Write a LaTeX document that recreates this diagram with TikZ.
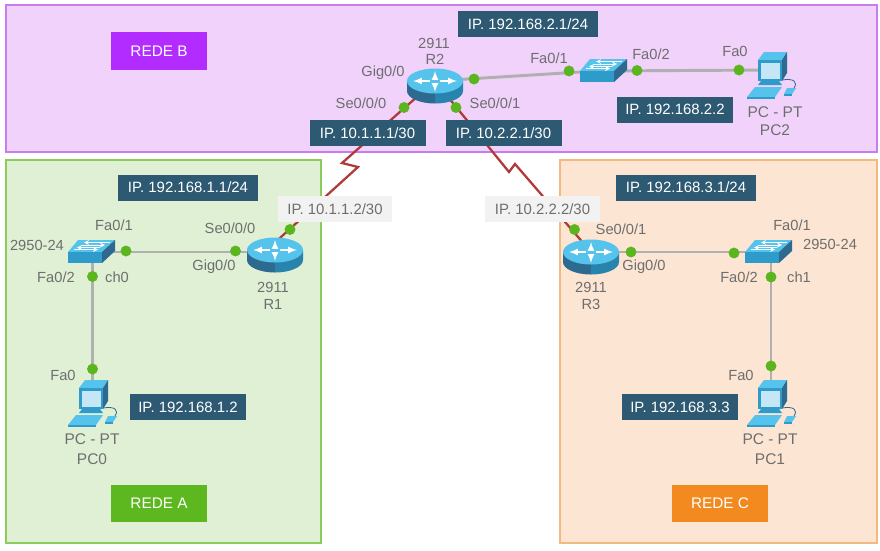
\documentclass[tikz,border=0pt]{standalone}
\usepackage{fontspec}
\setmainfont{Liberation Sans}
\usetikzlibrary{shapes,arrows}
\definecolor{dotgreen}{HTML}{5AB51E}
\definecolor{linkgray}{HTML}{B0B0B0}
\definecolor{serialred}{HTML}{B03A3A}
\definecolor{ipblue}{HTML}{2D5A72}
\definecolor{labelgray}{HTML}{6E6E6E}
\definecolor{iconlight}{HTML}{55C3EB}
\definecolor{iconmid}{HTML}{2F9BCB}
\definecolor{icondark}{HTML}{2E6A90}
\definecolor{screenblue}{HTML}{C5E6F5}
\definecolor{areaBline}{HTML}{C77DEE}
\definecolor{areaBfill}{HTML}{F0D2FB}
\definecolor{areaAline}{HTML}{8CCC5C}
\definecolor{areaAfill}{HTML}{E0F0D4}
\definecolor{areaCline}{HTML}{F4B97F}
\definecolor{areaCfill}{HTML}{FCE5D3}
\definecolor{redeBcol}{HTML}{B32CFF}
\definecolor{redeAcol}{HTML}{5CB81E}
\definecolor{redeCcol}{HTML}{F28A20}
\tikzset{
  area/.style={draw,line width=0.9pt},
  port/.style={circle,fill=dotgreen,inner sep=0pt,minimum size=8.2pt},
  lan/.style={linkgray,line width=2.2pt},
  serial/.style={serialred,line width=1.7pt},
  iplong/.style={fill=ipblue,text=white,font=\fontsize{11.2pt}{13pt}\selectfont,minimum width=105pt,minimum height=19.5pt,inner sep=0pt},
  ipshort/.style={iplong,minimum width=87pt},
  ipgray/.style={fill=black!5,text=labelgray,font=\fontsize{11.2pt}{13pt}\selectfont,minimum width=86pt,minimum height=19.5pt,inner sep=0pt},
  redebox/.style={text=white,font=\fontsize{11.5pt}{13pt}\selectfont,minimum width=72pt,minimum height=28pt,inner sep=0pt},
  lbl/.style={text=labelgray,font=\fontsize{11pt}{13pt}\selectfont,inner sep=0pt},
  biglbl/.style={text=labelgray,font=\fontsize{11.6pt}{14pt}\selectfont,inner sep=0pt},
  routerarrow/.style={white,line width=1.3pt,-latex},
  switcharrow/.style={white,line width=0.7pt,-stealth},
  router/.pic={
    \fill[icondark] (-28,0) -- (-28,10) .. controls (-28,16.9) and (-15.5,22.5) .. (0,22.5) -- (0,0) -- cycle;
    \fill[iconmid!85!black] (28,0) -- (28,10) .. controls (28,16.9) and (15.5,22.5) .. (0,22.5) -- (0,0) -- cycle;
    \fill[iconlight] (-28,0) .. controls (-28,-6.9) and (-15.5,-12.5) .. (0,-12.5) .. controls (15.5,-12.5) and (28,-6.9) .. (28,0) .. controls (28,6.9) and (15.5,12.5) .. (0,12.5) .. controls (-15.5,12.5) and (-28,6.9) .. (-28,0) -- cycle;
    \draw[routerarrow] (-5,0) -- (-22,0);
    \draw[routerarrow] (5,0) -- (22,0);
    \draw[routerarrow] (0,-2) -- (0,-10);
    \draw[routerarrow] (0,2) -- (0,11);
  },
  switchbox/.pic={
    \fill[iconlight] (0,0) -- (10,-12) -- (47,-12) -- (34,0) -- cycle;
    \fill[iconmid] (0,0) rectangle (34,11);
    \fill[icondark] (34,0) -- (47,-12) -- (47,-1) -- (34,11) -- cycle;
    \draw[switcharrow] (6,-2.5) -- (30,-2.5);
    \draw[switcharrow] (32,-4.5) -- (9,-4.5);
    \draw[switcharrow] (13,-7) -- (37,-7);
    \draw[switcharrow] (42,-9.5) -- (16,-9.5);
  },
  pcicon/.pic={
    \fill[iconlight] (0,0) -- (6,-8) -- (29,-8) -- (24,0) -- cycle;
    \fill[icondark] (24,0) -- (29,-8) -- (29,13) -- (24,21) -- cycle;
    \fill[iconmid] (0,0) rectangle (24,21);
    \fill[screenblue] (2.5,2.5) rectangle (22,18.5);
    \fill[iconmid] (3,21) -- (21,21) -- (24,25) -- (0,25) -- cycle;
    \fill[iconlight] (-3,27) -- (24,27) -- (17,37) -- (-11,37) -- cycle;
    \fill[iconmid] (-11,37) -- (17,37) -- (17,39) -- (-11,39) -- cycle;
    \fill[iconlight] (29,28) -- (38,28) -- (34,34) -- (26,34) -- cycle;
    \fill[iconmid] (26,34) -- (34,34) -- (34,36) -- (26,36) -- cycle;
    \draw[icondark,line width=0.6pt] (24,20) .. controls (36,18) and (40,22) .. (36,28);
  }
}
\begin{document}
\begin{tikzpicture}[x=0.75pt,y=-0.75pt]
        \useasboundingbox (0,0) rectangle (880,550);
        \fill[white] (0,0) rectangle (880,550);

        % areas
        \path[area,draw=areaBline,fill=areaBfill] (6,5) rectangle (877,152);
        \path[area,draw=areaAline,fill=areaAfill] (6,160) rectangle (321,543);
        \path[area,draw=areaCline,fill=areaCfill] (560,160) rectangle (877,543);

        % devices
        \coordinate (R2) at (435,81);
        \coordinate (R1) at (275,252);
        \coordinate (R3) at (591,252);
        \coordinate (SW2) at (597,71);
        \coordinate (SW0) at (92.5,252);
        \coordinate (SW1) at (771,252);
        \coordinate (PC2) at (770,70);
        \coordinate (PC0) at (92.5,398);
        \coordinate (PC1) at (771,398);

        % bends of the serial links
        \coordinate (zigA) at (342,163);
        \coordinate (zigB) at (358,167);
        \coordinate (zigC) at (509,172);
        \coordinate (zigD) at (515,164);
        \coordinate (R1serial) at (270,247);

        % links
        \draw[lan] (R2) -- (SW2);
        \draw[lan] (SW2) -- (PC2);
        \draw[lan] (SW0) -- (R1);
        \draw[lan] (SW0) -- (PC0);
        \draw[lan] (R3) -- (SW1);
        \draw[lan] (SW1) -- (PC1);
        \draw[serial] (R2) -- (zigA) -- (zigB) -- (R1serial);
        \draw[serial] (R2) -- (zigC) -- (zigD) -- (R3);

        % icons
        \pic at (R2) {router};
        \pic at (275,250) {router};
        \pic at (R3) {router};
        \pic at (580,71) {switchbox};
        \pic at (68,252) {switchbox};
        \pic at (745,252) {switchbox};
        \pic at (758,60) {pcicon};
        \pic at (79,388) {pcicon};
        \pic at (758,388) {pcicon};

        % ports
        \node[port] (p1) at (474,79) {};
        \node[port] (p2) at (569,71) {};
        \node[port] (p3) at (637,70.5) {};
        \node[port] (p4) at (739,70) {};
        \node[port] (p5) at (404,107.5) {};
        \node[port] (p6) at (456,107.5) {};
        \node[port] (p7) at (126,251) {};
        \node[port] (p8) at (235.5,251) {};
        \node[port] (p9) at (290,229.5) {};
        \node[port] (p10) at (92.5,276.5) {};
        \node[port] (p11) at (92.5,369) {};
        \node[port] (p12) at (574.5,229.5) {};
        \node[port] (p13) at (631,252) {};
        \node[port] (p14) at (734,253) {};
        \node[port] (p15) at (771,277) {};
        \node[port] (p16) at (771,366) {};

        % addresses
        \node[iplong] (ipB) at (528,24) {IP. 192.168.2.1/24};
        \node[iplong] (ipA) at (188,187.5) {IP. 192.168.1.1/24};
        \node[iplong] (ipC) at (686,187.5) {IP. 192.168.3.1/24};
        \node[ipshort] (ipPC2) at (675,109.5) {IP. 192.168.2.2};
        \node[ipshort] (ipPC0) at (188,407) {IP. 192.168.1.2};
        \node[ipshort] (ipPC1) at (680,407) {IP. 192.168.3.3};
        \node[ipshort] (ipS1) at (367.5,133) {IP. 10.1.1.1/30};
        \node[ipshort] (ipS2) at (503.5,133) {IP. 10.2.2.1/30};
        \node[ipgray] (ipS3) at (335,209) {IP. 10.1.1.2/30};
        \node[ipgray] (ipS4) at (542.5,209) {IP. 10.2.2.2/30};

        % networks
        \node[redebox,fill=redeBcol] (redeB) at (159,51) {REDE B};
        \node[redebox,fill=redeAcol] (redeA) at (159,503.5) {REDE A};
        \node[redebox,fill=redeCcol] (redeC) at (720,503.5) {REDE C};

        % labels of R2 side
        \node[lbl] (t1) at (434,43) {2911};
        \node[lbl] (t2) at (435,59) {R2};
        \node[lbl] (t3) at (383,73) {Gig0/0};
        \node[lbl] (t4) at (361,103) {Se0/0/0};
        \node[lbl] (t5) at (495,103) {Se0/0/1};
        \node[lbl] (t6) at (549,58) {Fa0/1};
        \node[lbl] (t7) at (651,54) {Fa0/2};
        \node[lbl] (t8) at (735,51) {Fa0};
        \node[biglbl] (t9) at (775,112) {PC - PT};
        \node[biglbl] (t10) at (775,130) {PC2};

        % labels of R1 side
        \node[lbl] (t11) at (114,225) {Fa0/1};
        \node[lbl] (t12) at (230,228) {Se0/0/0};
        \node[lbl] (t13) at (214,267) {Gig0/0};
        \node[lbl] (t14) at (37,245) {2950-24};
        \node[lbl] (t15) at (56,277) {Fa0/2};
        \node[lbl] (t16) at (117,277) {ch0};
        \node[lbl] (t17) at (273,287) {2911};
        \node[lbl] (t18) at (273,304) {R1};
        \node[lbl] (t19) at (63,375) {Fa0};
        \node[biglbl] (t20) at (92,439) {PC - PT};
        \node[biglbl] (t21) at (92,459) {PC0};

        % labels of R3 side
        \node[lbl] (t22) at (621,229) {Se0/0/1};
        \node[lbl] (t23) at (644,267) {Gig0/0};
        \node[lbl] (t24) at (792,225) {Fa0/1};
        \node[lbl] (t25) at (830,244) {2950-24};
        \node[lbl] (t26) at (739,277) {Fa0/2};
        \node[lbl] (t27) at (799,277) {ch1};
        \node[lbl] (t28) at (591,287) {2911};
        \node[lbl] (t29) at (591,304) {R3};
        \node[lbl] (t30) at (741,375) {Fa0};
        \node[biglbl] (t31) at (770,439) {PC - PT};
        \node[biglbl] (t32) at (770,459) {PC1};
\end{tikzpicture}
\end{document}
